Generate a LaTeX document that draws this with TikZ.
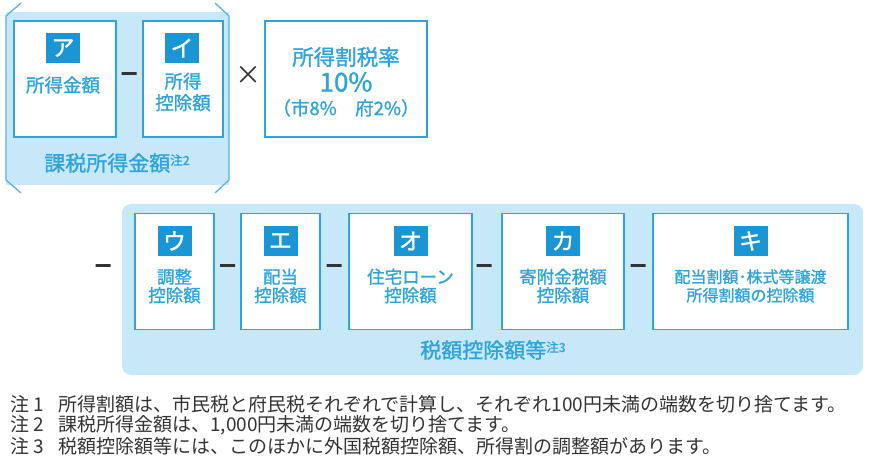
\documentclass[tikz,border=0pt]{standalone}
\usepackage{fontspec}
\setmainfont{Noto Sans CJK JP}
\newfontfamily\boxfont[FakeBold=1.2]{Noto Sans CJK JP}
\definecolor{taxblue}{HTML}{2FA3DB}
\definecolor{tagblue}{HTML}{1A96D5}
\definecolor{paleblue}{HTML}{C6E8F8}
\definecolor{edgeblue}{HTML}{5AB2E0}
\definecolor{notegray}{HTML}{333333}
\newcommand{\fsz}[1]{\fontsize{#1}{#1}\selectfont}
\begin{document}
\begin{tikzpicture}[x=1pt,y=-1pt,
  box/.style={draw=taxblue, line width=1.6pt, fill=white, minimum height=116pt, inner sep=0pt},
  tag/.style={fill=tagblue, text=white, minimum width=34pt, minimum height=30pt, inner sep=0pt, font=\boxfont\fsz{23}},
  bluetext/.style={text=taxblue, align=center, inner sep=0pt},
  minusbar/.style={draw=notegray, line width=3pt, minimum width=15pt, minimum height=0pt, inner sep=0pt},
  note/.style={text=notegray, anchor=west, inner sep=0pt, font=\fsz{19}}]
\useasboundingbox (0,0) rectangle (870,470);
% taxable income group
\fill[paleblue] (6,12) rectangle (229,185);
\draw[edgeblue, line width=1.3pt] (21,3) -- (6,16) -- (6,180) -- (21,193);
\draw[edgeblue, line width=1.3pt] (215,3) -- (229,16) -- (229,180) -- (215,193);
\node[box, minimum width=102pt] (a) at (65,79) {};
\node[box, minimum width=80pt] (i) at (183,79) {};
\node[tag] (ta) at (63,48) {ア};
\node[bluetext, font=\boxfont\fsz{18.5}] (la) at (63,85) {所得金額};
\node[tag] (ti) at (182,48) {イ};
\node[bluetext, font=\boxfont\fontsize{18.5}{21.5}\selectfont] (li) at (183,92) {所得\\控除額};
\node[minusbar] (m1) at (129,74) {};
\node[bluetext, font=\boxfont\fsz{21}] (lk) at (117,163) {課税所得金額\raisebox{6pt}{\fsz{12.5}注2}};
\node[text=notegray, inner sep=0pt, font=\fsz{26}] (x) at (248,75) {×};
% tax rate
\node[box, minimum width=162pt] (r) at (346,79) {};
\node[bluetext, font=\boxfont\fsz{21.5}] (r1) at (346,57) {所得割税率};
\node[bluetext, font=\boxfont\fsz{26}] (r2) at (346,82) {10\%};
\node[bluetext, font=\boxfont\fsz{18.5}] (r3) at (346,108) {（市8\%　府2\%）};
% tax credits group
\fill[paleblue, rounded corners=9pt] (122,204) rectangle (863,375);
\node[minusbar] (m2) at (103,266) {};
\node[box, minimum width=79pt] (u) at (174.5,271.5) {};
\node[box, minimum width=79pt] (e) at (280.5,271.5) {};
\node[box, minimum width=123pt] (o) at (410.5,271.5) {};
\node[box, minimum width=122pt] (ka) at (563,271.5) {};
\node[box, minimum width=195pt] (ki) at (750.5,271.5) {};
\foreach \n/\k/\s/\t in {u/ウ/17.5/{調整\\控除額}, e/エ/17.5/{配当\\控除額}, o/オ/17.5/{住宅ローン\\控除額},
    ka/カ/17.5/{寄附金税額\\控除額}, ki/キ/16/{配当割額･株式等譲渡\\所得割額の控除額}} {
  \node[tag] (t\n) at ([yshift=30.5pt]\n.center) {\k};
  \node[bluetext, font=\boxfont\fontsize{\s}{18.5}\selectfont] (l\n) at ([yshift=-14.5pt]\n.center) {\t};
}
\node[minusbar] (m3) at (227.5,266) {};
\node[minusbar] (m4) at (334,266) {};
\node[minusbar] (m5) at (484,266) {};
\node[minusbar] (m6) at (638,266) {};
\node[bluetext, font=\boxfont\fsz{21}] (lz) at (493,350) {税額控除額等\raisebox{6pt}{\fsz{12.5}注3}};
% notes
\node[note] (n1) at (10,404) {\makebox[48pt][l]{注 1}所得割額は、市民税と府民税それぞれで計算し、それぞれ100円未満の端数を切り捨てます。};
\node[note] (n2) at (10,425) {\makebox[48pt][l]{注 2}課税所得金額は、1,000円未満の端数を切り捨てます。};
\node[note] (n3) at (10,446) {\makebox[48pt][l]{注 3}税額控除額等には、このほかに外国税額控除額、所得割の調整額があります。};
\end{tikzpicture}
\end{document}
